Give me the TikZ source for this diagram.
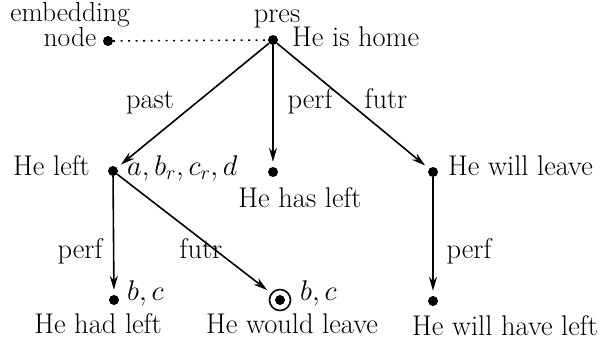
\RequirePackage{fix-cm}
\documentclass[tikz,border=0pt]{standalone}
\usetikzlibrary{arrows.meta}
\begin{document}
\begin{tikzpicture}[x=1pt,y=-1pt,
  every node/.style={font=\fontsize{28.5}{34}\selectfont},
  dot/.style={circle,fill,inner sep=0pt,minimum size=10pt},
  arr/.style={line width=1.6pt,-{Stealth[length=14pt,width=8pt]},shorten >=5pt},
  lab/.style={inner sep=0pt}]
\useasboundingbox (0,0) rectangle (601,348);
% dots
\node[dot] (emb) at (108,41) {};
\node[dot] (pres) at (273,40) {};
\node[dot] (left) at (113,171) {};
\node[dot] (has) at (273,172) {};
\node[dot] (will) at (433,172) {};
\node[dot] (had) at (114,300) {};
\node[dot] (would) at (280,300) {};
\node[draw,circle,line width=1.6pt,minimum size=21pt,inner sep=0pt] (wouldc) at (280,300) {};
\node[dot] (willhave) at (433,301) {};
% connectors
\draw[line width=1.6pt,dash pattern=on 1.8pt off 5.7pt] (emb) -- (pres);
\draw[arr] (pres) -- (left);
\draw[arr] (pres) -- (has);
\draw[arr] (pres) -- (will);
\draw[arr] (left) -- (had);
\draw[arr] (left) -- (wouldc);
\draw[arr] (will) -- (willhave);
% texts
\node[lab,anchor=north,align=center,font=\fontsize{27.5}{33}\selectfont] (t1) at (70,2.5) {embedding\\[-8pt]node};
\node[lab,anchor=base] (t3) at (277,22) {pres};
\node[lab,anchor=base west] (t4) at (292,46) {He is home};
\node[lab,anchor=base] (l1) at (150,108) {past};
\node[lab,anchor=base] (l2) at (310,108) {perf};
\node[lab,anchor=base] (l3) at (386,108) {futr};
\node[lab,anchor=base east] (t5) at (90,175) {He left};
\node[lab,anchor=base west] (t6) at (127,175) {$a, b_r, c_r, d$};
\node[lab,anchor=base] (t7) at (300,207) {He has left};
\node[lab,anchor=base west] (t8) at (448,175) {He will leave};
\node[lab,anchor=base] (l4) at (80,258) {perf};
\node[lab,anchor=base] (l5) at (201,258) {futr};
\node[lab,anchor=base] (l6) at (469,258) {perf};
\node[lab,anchor=base west] (t9) at (127,300) {$b, c$};
\node[lab,anchor=base west] (t10) at (300,300) {$b, c$};
\node[lab,anchor=base] (t11) at (98,333) {He had left};
\node[lab,anchor=base] (t12) at (292,333) {He would leave};
\node[lab,anchor=base] (t13) at (505,335) {He will have left};
\end{tikzpicture}
\end{document}
